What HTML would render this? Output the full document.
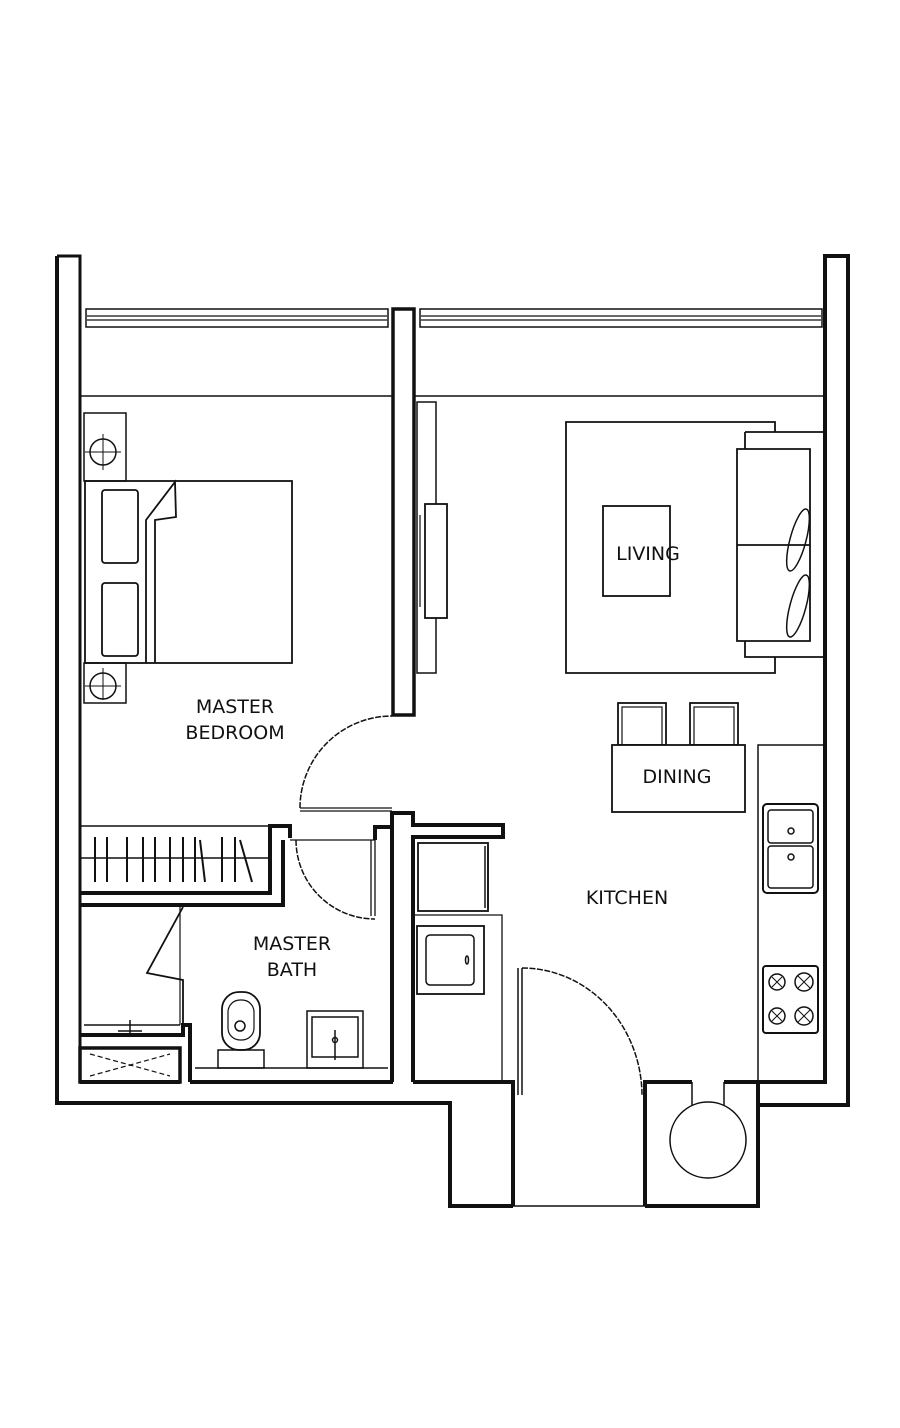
<!DOCTYPE html>
<html><head><meta charset="utf-8"><style>
html,body{margin:0;padding:0;background:#fff;}
svg{display:block;}
text{font-family:"DejaVu Sans","Liberation Sans",sans-serif;font-size:19px;fill:#111;text-anchor:middle;}
</style></head><body>
<svg width="900" height="1428" viewBox="0 0 900 1428" xmlns="http://www.w3.org/2000/svg">
<g fill="none" stroke="#111" stroke-linejoin="miter">
<!-- outer walls -->
<path d="M57,256 H80 V1082" stroke-width="3"/>
<path d="M57,256 V1103 H450 V1206 H513" stroke-width="4"/>
<path d="M80,1082 H180 M190,1082 H393" stroke-width="4"/>
<path d="M413,1082 H513 V1206" stroke-width="4"/>
<path d="M513,1206 H645" stroke-width="1.5"/>
<path d="M645,1206 H758 V1105 H848 V256 H825 V1082 H758 V1206" stroke-width="4"/>
<path d="M645,1206 V1082 H692 M724,1082 H758" stroke-width="4"/>
<path d="M692,1082 V1105 M724,1082 V1105" stroke-width="1.5"/>
<circle cx="708" cy="1140" r="38" stroke-width="1.5"/>
<!-- windows -->
<rect x="86" y="309" width="302" height="18" stroke-width="1.5"/>
<path d="M87,316 H387 M87,320 H387" stroke-width="1.2"/>
<rect x="420" y="309" width="402" height="18" stroke-width="1.5"/>
<path d="M421,316 H821 M421,320 H821" stroke-width="1.2"/>
<!-- central partition -->
<rect x="393" y="309" width="21" height="406" stroke-width="3.5"/>
<path d="M80,396 H393 M414,396 H825" stroke-width="1.5"/>
<!-- bedroom nightstands -->
<rect x="84" y="413" width="42" height="68" stroke-width="1.5"/>
<circle cx="103" cy="452" r="13" stroke-width="1.5"/>
<path d="M85,452 H121 M103,434 V470" stroke-width="1"/>
<rect x="84" y="663" width="42" height="40" stroke-width="1.5"/>
<circle cx="103" cy="686" r="13" stroke-width="1.5"/>
<path d="M85,686 H121 M103,668 V700" stroke-width="1"/>
<!-- bed -->
<rect x="85" y="481" width="207" height="182" stroke-width="1.8"/>
<rect x="102" y="490" width="36" height="73" rx="3" stroke-width="1.8"/>
<rect x="102" y="583" width="36" height="73" rx="3" stroke-width="1.8"/>
<path d="M146,663 V520 L175,482 L176,517 L155,520 V663" stroke-width="1.8"/>
<!-- TV -->
<rect x="417" y="402" width="19" height="271" stroke-width="1.5"/>
<rect x="425" y="504" width="22" height="114" fill="#fff" stroke-width="1.8"/>
<path d="M420,515 V607" stroke-width="1.2"/>
<!-- living -->
<path d="M775,432 V422 H566 V673 H775 V657" stroke-width="1.8"/>
<rect x="603" y="506" width="67" height="90" stroke-width="1.8"/>
<path d="M745,432 H825 M745,432 V449 H810 V641 H745 V657 H825 M745,449 H737 V641 H745 M737,545 H810" stroke-width="1.8"/>
<ellipse cx="798" cy="540" rx="8" ry="32" transform="rotate(15 798 540)" stroke-width="1.5"/>
<ellipse cx="798" cy="606" rx="8" ry="32" transform="rotate(15 798 606)" stroke-width="1.5"/>
<!-- dining -->
<rect x="618" y="703" width="48" height="42" stroke-width="1.8"/>
<rect x="622" y="707" width="40" height="38" stroke-width="1.2"/>
<rect x="690" y="703" width="48" height="42" stroke-width="1.8"/>
<rect x="694" y="707" width="40" height="38" stroke-width="1.2"/>
<rect x="612" y="745" width="133" height="67" fill="#fff" stroke-width="1.8"/>
<!-- kitchen counter -->
<path d="M825,745 H758 V1082" stroke-width="1.5"/>
<rect x="763" y="804" width="55" height="89" rx="4" stroke-width="2"/>
<rect x="768" y="810" width="45" height="33" rx="3" stroke-width="1.5"/>
<rect x="768" y="846" width="45" height="42" rx="3" stroke-width="1.5"/>
<circle cx="791" cy="831" r="3" stroke-width="1.5"/>
<circle cx="791" cy="857" r="3" stroke-width="1.5"/>
<rect x="763" y="966" width="55" height="67" rx="3" stroke-width="2"/>
<circle cx="777" cy="982" r="8" stroke-width="1.5"/>
<circle cx="804" cy="982" r="9" stroke-width="1.5"/>
<circle cx="777" cy="1016" r="8" stroke-width="1.5"/>
<circle cx="804" cy="1016" r="9" stroke-width="1.5"/>
<path d="M772,977 L782,987 M782,977 L772,987 M798,976 L810,988 M810,976 L798,988 M772,1011 L782,1021 M782,1011 L772,1021 M798,1010 L810,1022 M810,1010 L798,1022" stroke-width="1"/>
<!-- bedroom door -->
<path d="M300,808 H392 M300,811 H392" stroke-width="1.3"/>
<path d="M300,808 A92,92 0 0 1 392,716" stroke-width="1.5" stroke-dasharray="6,1.5"/>
<!-- wardrobe -->
<path d="M80,826 H270 M80,858 H270" stroke-width="1.5"/>
<path d="M80,893 H270 V826 H290 V838 M80,905 H283 V840" stroke-width="4"/>
<g stroke-width="2">
<path d="M95,837 V882 M107,837 V882 M127,837 V882 M143,837 V882 M155,837 V882 M170,837 V882 M183,837 V882 M195,837 V882 M200,840 L205,882 M222,837 V882 M235,837 V882 M240,840 L252,882"/>
</g>
<!-- bath/kitchen stub -->
<path d="M375,840 V827 H392 V813 H413 V825 H503 V837 H413 V1082 M392,827 V1082" stroke-width="4"/>
<!-- bath door -->
<path d="M290,840 H375" stroke-width="1.3"/>
<path d="M371,840 V916 M375,840 V916" stroke-width="1.3"/>
<path d="M296,840 A79,79 0 0 0 375,919" stroke-width="1.5" stroke-dasharray="6,1.5"/>
<!-- shower -->
<path d="M180,905 V1025" stroke-width="1.2"/>
<path d="M183,907 L147,973 L183,980 V1025" stroke-width="1.8"/>
<path d="M84,1025 H180 M130,1020 V1033 M118,1031 H142" stroke-width="1.5"/>
<path d="M80,1035 H183 V1025 H190 V1082" stroke-width="4"/>
<rect x="80" y="1048" width="100" height="34" stroke-width="3.5"/>
<path d="M90,1054 L170,1076 M90,1076 L170,1054" stroke-width="1.2" stroke-dasharray="5,3"/>
<!-- toilet & vanity -->
<path d="M195,1068 H388" stroke-width="1.5"/>
<rect x="218" y="1050" width="46" height="18" stroke-width="1.5"/>
<rect x="222" y="992" width="38" height="58" rx="17" stroke-width="1.8"/>
<rect x="228" y="1000" width="26" height="40" rx="12" stroke-width="1.2"/>
<circle cx="240" cy="1026" r="5" stroke-width="1.5"/>
<rect x="307" y="1011" width="56" height="57" stroke-width="1.5"/>
<rect x="312" y="1017" width="46" height="40" stroke-width="1.5"/>
<path d="M335,1030 V1060" stroke-width="1.5"/>
<circle cx="335" cy="1040" r="2.5" stroke-width="1.5"/>
<!-- kitchen left cabinets -->
<rect x="418" y="843" width="70" height="68" stroke-width="1.8"/>
<path d="M485,846 V908 M488,846 V908" stroke-width="1.5"/>
<path d="M413,915 H502 V1082" stroke-width="1.3"/>
<rect x="417" y="926" width="67" height="68" stroke-width="1.8"/>
<rect x="426" y="935" width="48" height="50" rx="4" stroke-width="1.5"/>
<ellipse cx="467" cy="960" rx="1.5" ry="4" stroke-width="1.5"/>
<!-- entrance door -->
<path d="M518,968 V1095 M522,968 V1095" stroke-width="1.5"/>
<path d="M522,968 A120,128 0 0 1 642,1096" stroke-width="1.5" stroke-dasharray="6,1.5"/>
</g>
<text x="235" y="713">MASTER</text>
<text x="235" y="739">BEDROOM</text>
<text x="648" y="560">LIVING</text>
<text x="677" y="783">DINING</text>
<text x="292" y="950">MASTER</text>
<text x="292" y="976">BATH</text>
<text x="627" y="904">KITCHEN</text>
</svg>
</body></html>
